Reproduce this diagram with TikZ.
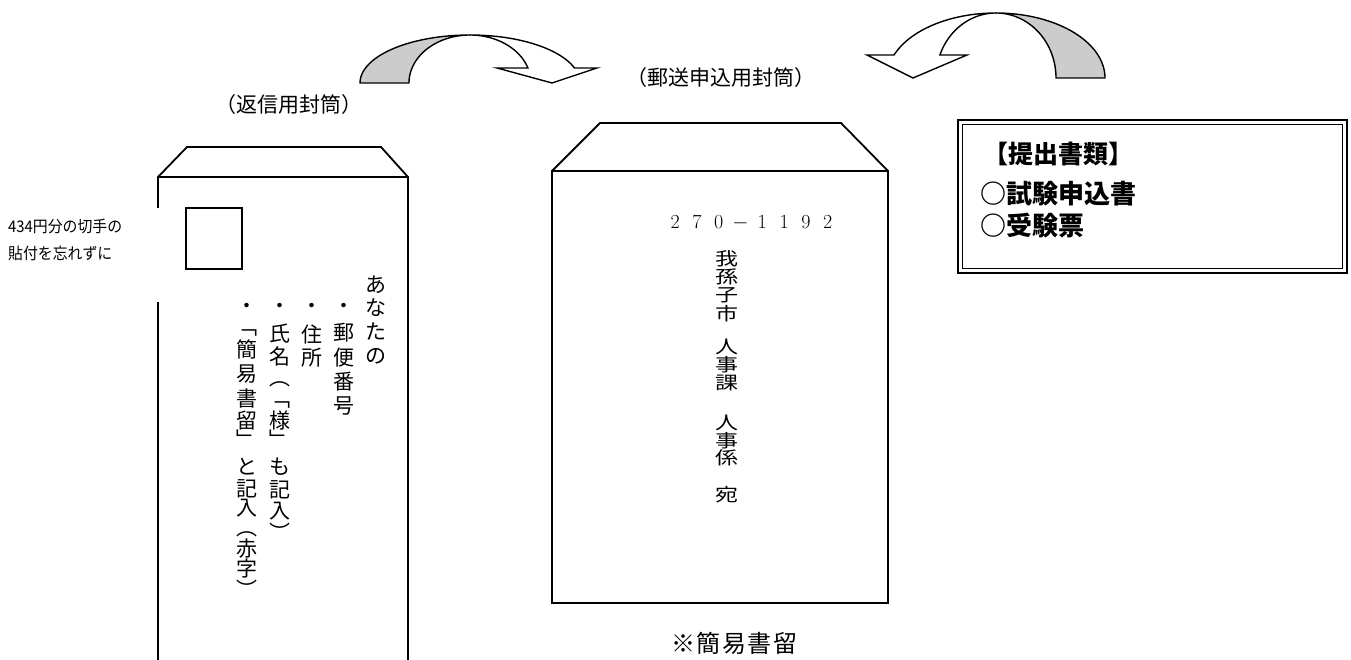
\documentclass[tikz,border=0pt]{standalone}
\usepackage{fontspec}
\newfontfamily\jp{Noto Sans CJK JP}
\begin{document}
\begin{tikzpicture}[x=1pt,y=-1pt,
  env/.style={line width=1.8pt, line join=miter},
  arr/.style={line width=1.4pt, line join=miter},
  vch/.style={font=\jp\fontsize{21}{21}\selectfont, inner sep=0pt, anchor=center},
  addr/.style={font=\jp\fontsize{23}{23}\selectfont, inner sep=0pt, anchor=center, yscale=0.78, transform shape},
  lab/.style={font=\jp\fontsize{21}{21}\selectfont, inner sep=0pt},
  boxtxt/.style={font=\jp\bfseries\fontsize{26}{26}\selectfont, inner sep=0pt, anchor=west},
  note/.style={font=\jp\fontsize{16}{16}\selectfont, inner sep=0pt, anchor=west, xscale=0.93, transform shape}
]
\useasboundingbox (0,0) rectangle (1351,660);

% ---------- curved arrow (left) ----------
\fill[gray!40] plot[domain=180:270,samples=40] ({470+110*cos(\x)},{83+48*sin(\x)})
  -- plot[domain=270:180,samples=40] ({470+61*cos(\x)},{83+48*sin(\x)}) -- cycle;
\draw[arr] plot[domain=180:270,samples=40] ({470+110*cos(\x)},{83+48*sin(\x)})
  -- plot[domain=270:180,samples=40] ({470+61*cos(\x)},{83+48*sin(\x)}) -- cycle;
\filldraw[arr,fill=white] plot[domain=270:341.8,samples=40] ({470+110*cos(\x)},{83+48*sin(\x)})
  -- (597,68) -- (552,83) -- (497,68)
  -- plot[domain=341.8:270,samples=40] ({470+61*cos(\x)},{83+48*sin(\x)}) -- cycle;

% ---------- curved arrow (right) ----------
\fill[gray!40] plot[domain=360:270,samples=40] ({996+109*cos(\x)},{78+65*sin(\x)})
  -- plot[domain=270:360,samples=40] ({996+60*cos(\x)},{78+65*sin(\x)}) -- cycle;
\draw[arr] plot[domain=360:270,samples=40] ({996+109*cos(\x)},{78+65*sin(\x)})
  -- plot[domain=270:360,samples=40] ({996+60*cos(\x)},{78+65*sin(\x)}) -- cycle;
\filldraw[arr,fill=white] plot[domain=270:200.7,samples=40] ({996+109*cos(\x)},{78+65*sin(\x)})
  -- (867,55) -- (913,78) -- (967,55)
  -- plot[domain=200.7:270,samples=40] ({996+60*cos(\x)},{78+65*sin(\x)}) -- cycle;

% ---------- labels ----------
\node[lab] (lblret) at (289,105) {（返信用封筒）};
\node[lab] (lblapp) at (721,78) {（郵送申込用封筒）};

% ---------- return envelope ----------
\draw[env] (158,208) -- (158,177) -- (187,147) -- (381,147) -- (408,177) -- (408,660);
\draw[env] (158,177) -- (408,177);
\draw[env] (158,302) -- (158,660);
\draw[line width=1.6pt] (186,208) rectangle (242,269);

\node[note] (stamp1) at (8,226) {434円分の切手の};
\node[note] (stamp2) at (8,253) {貼付を忘れずに};

\foreach \ch/\yy [count=\i] in {あ/285,な/308,た/332,の/356}
  \node[vch] (ca\i) at (376,\yy) {\ch};
\foreach \ch/\yy [count=\i] in {・/308,郵/333,便/358,番/382,号/406}
  \node[vch] (cb\i) at (344,\yy) {\ch};
\foreach \ch/\yy [count=\i] in {・/308,住/334,所/358}
  \node[vch] (cc\i) at (312,\yy) {\ch};
\foreach \ch/\yy [count=\i] in {・/308,氏/334,名/357,︵/384,﹁/405,様/421,﹂/439,も/467,記/490,入/511,︶/532}
  \node[vch] (cd\i) at (280,\yy) {\ch};
\foreach \ch/\yy [count=\i] in {・/308,﹁/333,簡/349,易/374,書/399,留/421,﹂/439,と/467,記/489,入/508,︵/534,赤/549,字/568,︶/589}
  \node[vch] (ce\i) at (247,\yy) {\ch};

% ---------- application envelope ----------
\draw[env] (552,171) rectangle (888,603);
\draw[env] (552,171) -- (600,123) -- (841,123) -- (888,171);

\node[font=\fontsize{20}{20}\selectfont, inner sep=0pt, anchor=base west] (zip) at (664,229)
  {\makebox[21.8pt]{2}\makebox[21.8pt]{7}\makebox[21.8pt]{0}\makebox[21.8pt]{$-$}\makebox[21.8pt]{1}\makebox[21.8pt]{1}\makebox[21.8pt]{9}\makebox[21.8pt]{2}};

\foreach \ch/\yy [count=\i] in {我/259,孫/277,子/295,市/314,人/347,事/365,課/383,人/423,事/441,係/458,宛/495}
  \node[addr] (ad\i) at (727,\yy) {\ch};

\node[font=\jp\fontsize{24}{24}\selectfont, inner sep=0pt] (kani) at (734,643) {※\hspace{1.5pt}簡\hspace{1.5pt}易\hspace{1.5pt}書\hspace{1.5pt}留};

% ---------- documents box ----------
\draw[line width=2.4pt] (958,120) rectangle (1347,273);
\draw[line width=1.2pt] (962.5,124.5) rectangle (1342.5,268.5);
\node[boxtxt, font=\jp\bfseries\fontsize{25}{25}\selectfont] (bt1) at (983,154) {【提出書類】};
\node[boxtxt] (bt2) at (980,194) {○試験申込書};
\node[boxtxt] (bt3) at (980,226) {○受験票};

\end{tikzpicture}
\end{document}
